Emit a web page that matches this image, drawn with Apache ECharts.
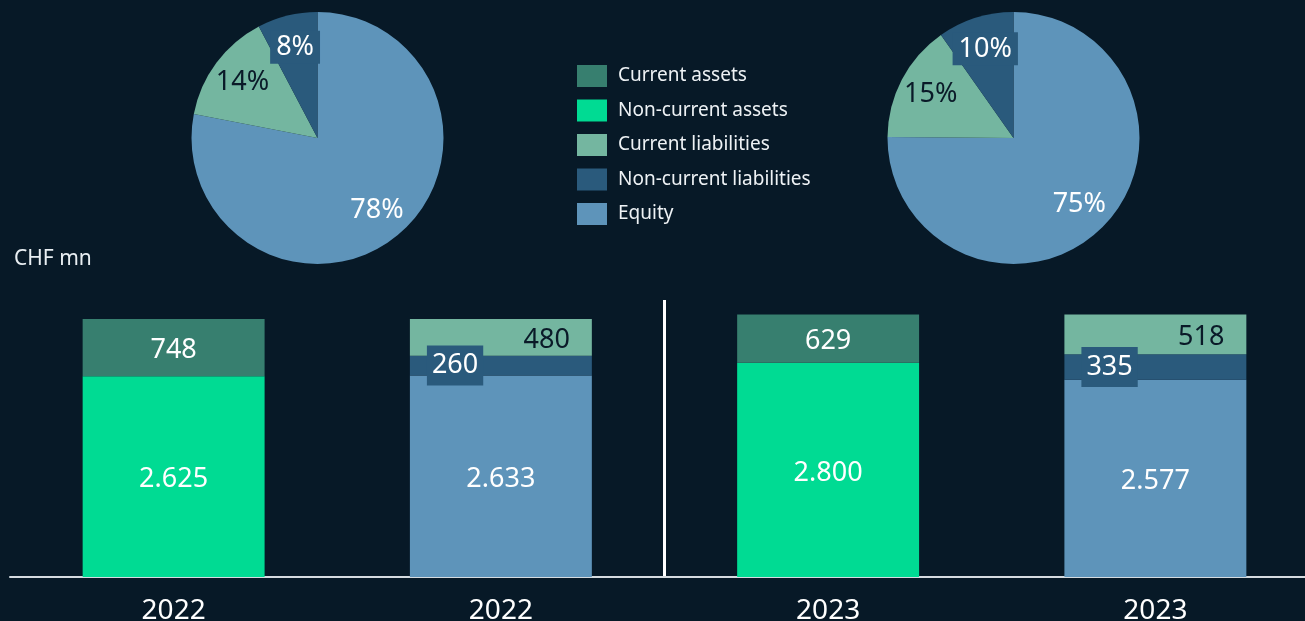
<!DOCTYPE html>
<html>
<head>
<meta charset="utf-8">
<script src="https://cdn.jsdelivr.net/npm/echarts@6/dist/echarts.min.js"></script>
<style>
  html, body { margin: 0; padding: 0; background: #071927; }
  #chart { width: 1305px; height: 621px; }
</style>
</head>
<body>
<div id="chart"></div>
<script>
// bar categories: assets / liabilities for each year
const years = ['2022', '2022', '2023', '2023'];
const nonCurrentAssets = [2625, '-', 2800, '-'];
const currentAssets = [748, '-', 629, '-'];
const equity = ['-', 2633, '-', 2577];
const nonCurrentLiab = ['-', 260, '-', 335];
const currentLiab = ['-', 480, '-', 518];
const legendNames = ['Current assets', 'Non-current assets', 'Current liabilities', 'Non-current liabilities', 'Equity'];

const FONT = '"Noto Sans", "Open Sans", sans-serif';
const C = {
  ca: '#377f6f',
  nca: '#00db93',
  cl: '#74b6a0',
  ncl: '#2a5a7c',
  eq: '#5e94ba',
  dark: '#0a1a28',
  white: '#ffffff'
};

function fmt(v) {
  return String(v).replace(/\B(?=(\d{3})+(?!\d))/g, '.');
}

function barLabel(extra) {
  return Object.assign({
    show: true,
    position: 'inside',
    color: C.white,
    fontFamily: FONT,
    fontSize: 27,
    offset: [0, 3],
    formatter: p => fmt(p.value)
  }, extra || {});
}

function bar(name, data, color, label) {
  return {
    name: name,
    type: 'bar',
    stack: 'total',
    data: data,
    barWidth: '55.6%',
    itemStyle: { color: color },
    label: label,
    emphasis: { disabled: true }
  };
}

// pie slices come from the liabilities side of each year
function pieData(i) {
  return [
    { name: 'Equity', value: equity[i], itemStyle: { color: C.eq },
      label: { color: C.white } },
    { name: 'Current liabilities', value: currentLiab[i], itemStyle: { color: C.cl },
      label: { color: C.dark } },
    { name: 'Non-current liabilities', value: nonCurrentLiab[i], itemStyle: { color: C.ncl },
      label: { color: C.white, backgroundColor: C.ncl, padding: [4, 6, 2, 6] } }
  ];
}

function pies(i, cx) {
  return [
    {
      type: 'pie',
      center: [cx, 138],
      radius: 126,
      startAngle: 90,
      clockwise: true,
      data: pieData(i),
      label: { show: false },
      labelLine: { show: false },
      emphasis: { disabled: true },
      silent: true
    },
    {
      // transparent ring, only used to place the % labels further out
      type: 'pie',
      center: [cx, 138],
      radius: [55, 126],
      startAngle: 90,
      clockwise: true,
      percentPrecision: 0,
      data: pieData(i).map(d => Object.assign({}, d, { itemStyle: { color: 'transparent' } })),
      label: { show: true, position: 'inside', fontFamily: FONT, fontSize: 27, formatter: '{d}%' },
      labelLine: { show: false },
      emphasis: { disabled: true },
      legendHoverLink: false,
      silent: true
    }
  ];
}

const chart = echarts.init(document.getElementById('chart'));
chart.setOption({
  backgroundColor: '#071927',
  animation: false,
  title: {
    text: 'CHF mn',
    left: 14,
    top: 249,
    padding: 0,
    textStyle: { color: '#e8eef2', fontFamily: FONT, fontSize: 21, fontWeight: 'normal' }
  },
  legend: {
    orient: 'vertical',
    left: 577,
    top: 65,
    padding: 0,
    data: legendNames,
    icon: 'rect',
    itemWidth: 30,
    itemHeight: 22,
    itemGap: 12.5,
    selectedMode: false,
    textStyle: { color: '#eef2f5', fontFamily: FONT, fontSize: 19, padding: [0, 0, 0, 6] }
  },
  grid: { left: 10, right: -14, top: 300, bottom: 44, outerBoundsMode: 'none' },
  xAxis: {
    type: 'category',
    data: years,
    axisLine: { lineStyle: { color: '#d5dbe0', width: 2 } },
    axisTick: { show: false },
    axisLabel: { color: '#ffffff', fontFamily: FONT, fontSize: 28, margin: 20, interval: 0 },
    // single divider between the 2022 and 2023 pairs
    splitLine: {
      show: true,
      interval: (idx) => idx === 0 || idx === 2,
      showMinLine: false,
      showMaxLine: false,
      lineStyle: { color: '#ffffff', width: 3 }
    }
  },
  yAxis: {
    type: 'value',
    min: 0,
    max: 3620,
    show: false,
    splitLine: { show: false }
  },
  series: [
    bar('Non-current assets', nonCurrentAssets, C.nca, barLabel()),
    bar('Equity', equity, C.eq, barLabel()),
    bar('Non-current liabilities', nonCurrentLiab, C.ncl, barLabel({
      position: 'insideLeft', distance: 17, offset: [0, 0], backgroundColor: C.ncl, padding: [8, 5, 5, 5]
    })),
    bar('Current assets', currentAssets, C.ca, barLabel()),
    bar('Current liabilities', currentLiab, C.cl, barLabel({
      position: 'insideRight', distance: 22, color: C.dark
    }))
  ].concat(pies(1, 317.5), pies(3, 1013.5))
});
</script>
</body>
</html>
